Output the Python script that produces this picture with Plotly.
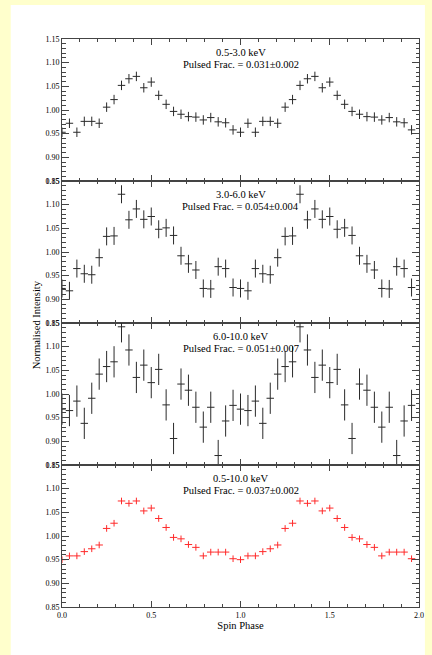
import numpy as np
import plotly.graph_objects as go
from plotly.subplots import make_subplots

# Spin phase bins (24 per cycle, two cycles shown)
n_bins = 24
phase = [i / n_bins for i in range(2 * n_bins)]

# Normalised intensity for one cycle (repeated for the second cycle)
band_0p5_3 = [0.953, 0.972, 0.953, 0.976, 0.976, 0.972, 1.006, 1.022, 1.052, 1.066,
              1.071, 1.047, 1.059, 1.031, 1.012, 0.997, 0.991, 0.986, 0.985, 0.979,
              0.984, 0.975, 0.973, 0.958]
band_3_6 = [0.923, 0.918, 0.965, 0.954, 0.952, 0.988, 1.033, 1.034, 1.122, 1.068,
            1.091, 1.069, 1.075, 1.048, 1.051, 1.035, 0.992, 0.975, 0.962, 0.923,
            0.922, 0.969, 0.965, 0.925]
band_6_10 = [0.968, 0.965, 0.985, 0.938, 0.991, 1.042, 1.058, 1.068, 1.142, 1.093,
             1.035, 1.061, 1.024, 1.052, 0.977, 0.906, 1.021, 1.008, 0.972, 0.930,
             0.972, 0.870, 0.943, 0.976]
band_0p5_10 = [0.950, 0.958, 0.958, 0.967, 0.973, 0.981, 1.016, 1.027, 1.074, 1.069,
               1.074, 1.053, 1.059, 1.037, 1.018, 0.997, 0.994, 0.982, 0.976, 0.958,
               0.966, 0.966, 0.966, 0.952]

errors = [0.010, 0.019, 0.033, 0.007]
band_labels = ["0.5-3.0 keV", "3.0-6.0 keV", "6.0-10.0 keV", "0.5-10.0 keV"]
pulsed_fracs = ["0.031±0.002", "0.054±0.004", "0.051±0.007", "0.037±0.002"]
colors = ["#2a2a2a", "#2a2a2a", "#2a2a2a", "#ff2a2a"]
bands = [band_0p5_3, band_3_6, band_6_10, band_0p5_10]

FONT = "Liberation Serif, Times New Roman, serif"
AX = "#444444"

fig = make_subplots(rows=4, cols=1, shared_xaxes=True, vertical_spacing=0)

for r, (vals, err, col) in enumerate(zip(bands, errors, colors), start=1):
    fig.add_trace(go.Scatter(
        x=phase, y=vals + vals, mode="markers",
        marker=dict(size=1, opacity=0, color=col),
        error_x=dict(type="constant", value=1 / (2 * n_bins), width=0, thickness=1, color=col),
        error_y=dict(type="constant", value=err, width=0, thickness=1, color=col),
        showlegend=False, hoverinfo="skip",
    ), row=r, col=1)
    yref = "y domain" if r == 1 else f"y{r} domain"
    xref = "x domain" if r == 1 else f"x{r} domain"
    fig.add_annotation(text=band_labels[r - 1], xref=xref, yref=yref, x=0.5, y=1 - 13 / 142,
                       showarrow=False, font=dict(family=FONT, size=10.5, color="black"),
                       xanchor="center", yanchor="middle")
    fig.add_annotation(text="Pulsed Frac. = " + pulsed_fracs[r - 1], xref=xref, yref=yref,
                       x=0.5, y=1 - 25 / 142, showarrow=False,
                       font=dict(family=FONT, size=10.5, color="black"),
                       xanchor="center", yanchor="middle")

fig.update_xaxes(range=[0, 2], ticks="inside", ticklen=6, tickwidth=1, tickcolor=AX,
                 showline=True, linecolor=AX, linewidth=1, mirror="ticks",
                 tick0=0, dtick=0.5, tickformat=".1f",
                 minor=dict(ticks="inside", dtick=0.1, ticklen=3, tickcolor=AX, tickwidth=1),
                 showgrid=False, zeroline=False,
                 tickfont=dict(family=FONT, size=8, color="black"))
fig.update_yaxes(range=[0.85, 1.15], ticks="inside", ticklen=7, tickwidth=1, tickcolor=AX,
                 showline=True, linecolor=AX, linewidth=1, mirror="ticks",
                 tick0=0.85, dtick=0.05, tickformat=".2f",
                 minor=dict(ticks="inside", dtick=0.01, ticklen=3.5, tickcolor=AX, tickwidth=1),
                 showgrid=False, zeroline=False,
                 tickfont=dict(family=FONT, size=8, color="black"))
fig.update_xaxes(title=dict(text="Spin Phase", font=dict(family=FONT, size=10.5, color="black"),
                            standoff=2), row=4, col=1)

fig.add_annotation(text="Normalised Intensity", xref="paper", yref="paper",
                   x=(36 - 62) / 362, y=(607 - 325) / 568, textangle=-90, showarrow=False,
                   font=dict(family=FONT, size=10.5, color="black"),
                   xanchor="center", yanchor="middle")

# white page area over pale-yellow background
fig.add_shape(type="rect", xref="paper", yref="paper", layer="below",
              x0=(10 - 62) / 362, x1=(430 - 62) / 362, y0=-0.2, y1=(607 - 5) / 568,
              fillcolor="white", line=dict(width=0))

fig.update_layout(width=432, height=655, autosize=False,
                  margin=dict(l=62, r=8, t=39, b=48),
                  paper_bgcolor="#ffffcc", plot_bgcolor="white",
                  font=dict(family=FONT, color="black"))

fig.write_html("out.html")
